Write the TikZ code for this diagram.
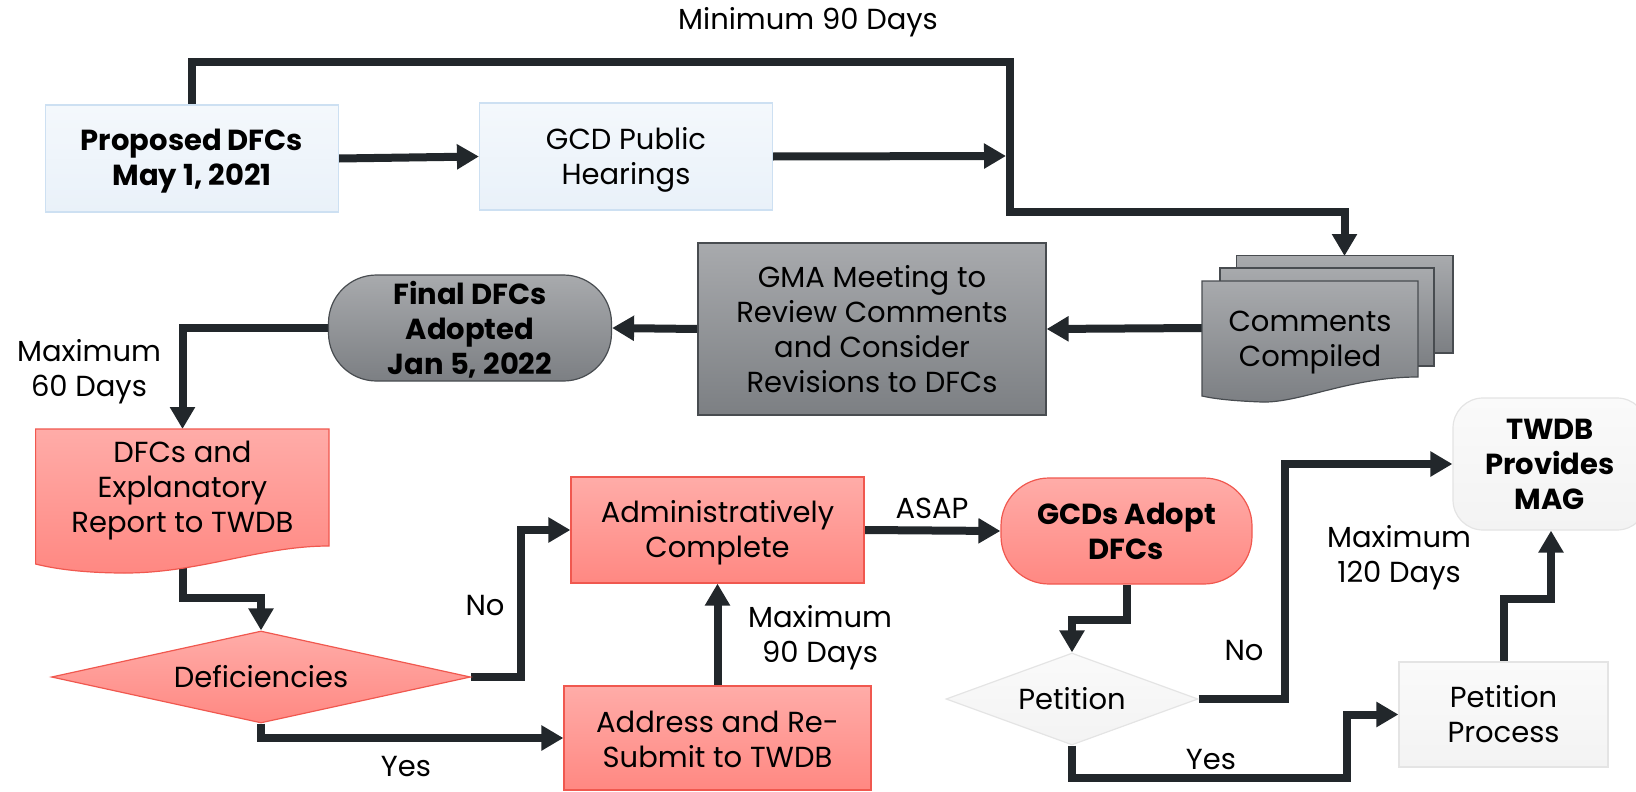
\documentclass[tikz,border=0pt]{standalone}
\usepackage{fontspec}
\setmainfont{Poppins}
\usetikzlibrary{arrows.meta,shapes.geometric}
\pgfdeclarelayer{bg}
\pgfsetlayers{bg,main}
\definecolor{ln}{RGB}{34,39,43}
\definecolor{blueT}{RGB}{244,248,252}
\definecolor{blueBot}{RGB}{233,241,249}
\definecolor{blueD}{RGB}{205,224,242}
\definecolor{grayT}{RGB}{168,170,173}
\definecolor{grayBot}{RGB}{124,127,131}
\definecolor{grayD}{RGB}{72,76,80}
\definecolor{redT}{RGB}{255,172,168}
\definecolor{redBot}{RGB}{255,136,130}
\definecolor{redD}{RGB}{240,88,79}
\definecolor{wT}{RGB}{250,250,250}
\definecolor{wBot}{RGB}{243,243,243}
\definecolor{wD}{RGB}{228,228,228}
\begin{document}
\begin{tikzpicture}[x=1pt,y=-1pt,
  conn/.style={draw=ln, line width=8pt, line join=miter, -{Triangle[length=22pt,width=24pt]}},
  txt/.style={font=\fontsize{29}{35}\selectfont, align=center, text=black, inner sep=0pt},
  btxt/.style={txt, font=\fontsize{29}{35}\selectfont\bfseries},
  dn/.style={yshift=-3pt},
  bluebox/.style={rectangle, draw=blueD, line width=1.2pt, top color=blueT, bottom color=blueBot, inner sep=0pt},
  graybox/.style={rectangle, draw=grayD, line width=1.2pt, top color=grayT, bottom color=grayBot, inner sep=0pt},
  redbox/.style={rectangle, draw=redD, line width=1.2pt, top color=redT, bottom color=redBot, inner sep=0pt},
  whitebox/.style={rectangle, draw=wD, line width=1.2pt, top color=wT, bottom color=wBot, inner sep=0pt},
  sheet/.style={draw=grayD, line width=1.2pt, top color=grayT, bottom color=grayBot},
]
\useasboundingbox (0,0) rectangle (1636,792);

% top row
\node[bluebox, minimum width=293pt, minimum height=107pt] (prop) at (192,158.5) {};
\node[btxt, dn] at (prop) {Proposed DFCs\\May 1, 2021};
\node[bluebox, minimum width=293pt, minimum height=107pt] (gcd) at (626,156.5) {};
\node[txt, dn] at (gcd) {GCD Public\\Hearings};

% comments compiled (stacked documents)
\path[sheet] (1236.7,255.7) rectangle (1453,353);
\path[sheet] (1220,268) rectangle (1434,366);
\path[sheet] (1202,281) -- (1418,281) -- (1418,377)
  .. controls (1350,377) and (1300,403) .. (1262,402)
  .. controls (1235,401) and (1215,399) .. (1202,396) -- cycle;
\node[txt, dn] (comm) at (1310,340) {Comments\\Compiled};
\coordinate (commW) at (1202,328);
\coordinate (commN) at (1344.5,256);

% second row
\node[graybox, minimum width=348pt, minimum height=172pt] (gma) at (872,329) {};
\node[txt] at (gma) {GMA Meeting to\\Review Comments\\and Consider\\Revisions to DFCs};
\node[rectangle, rounded corners=48pt, draw=grayD, line width=1.2pt, top color=grayT, bottom color=grayBot,
  minimum width=283pt, minimum height=106pt, inner sep=0pt] (final) at (470,328) {};
\node[btxt, yshift=-1.5pt] at (final) {Final DFCs\\Adopted\\Jan 5, 2022};

% report document
\path[draw=redD, line width=1.2pt, top color=redT, bottom color=redBot]
  (35.6,429) -- (329,429) -- (329,546)
  .. controls (260,546) and (200,573) .. (125,573)
  .. controls (85,573) and (55,569) .. (35.6,564) -- cycle;
\node[txt, dn] (report) at (182.5,488) {DFCs and\\Explanatory\\Report to TWDB};
\coordinate (reportN) at (182.5,429);
\coordinate (reportS) at (182.5,560);

% deficiencies diamond
\node[diamond, draw=redD, line width=1.2pt, top color=redT, bottom color=redBot,
  minimum width=419pt, minimum height=92pt, inner sep=0pt] (def) at (261,677) {};
\node[txt] at (def) {Deficiencies};

\node[redbox, minimum width=293pt, minimum height=106pt] (admin) at (717.5,530) {};
\node[txt, dn] at (admin) {Administratively\\Complete};
\node[redbox, minimum width=307pt, minimum height=104pt] (addr) at (717.5,738) {};
\node[txt, yshift=-1.5pt] at (addr) {Address and Re-\\Submit to TWDB};

\node[rectangle, rounded corners=48pt, draw=redD, line width=1.2pt, top color=redT, bottom color=redBot,
  minimum width=251pt, minimum height=106pt, inner sep=0pt] (gcds) at (1126.5,531) {};
\node[btxt] at (gcds) {GCDs Adopt\\DFCs};

\node[diamond, draw=wD, line width=1.2pt, top color=wT, bottom color=wBot,
  minimum width=252pt, minimum height=92pt, inner sep=0pt] (pet) at (1072,699) {};
\node[txt] at (pet) {Petition};

\node[whitebox, minimum width=209pt, minimum height=105pt] (petp) at (1503.5,714.5) {};
\node[txt] at (petp) {Petition\\Process};

\node[rectangle, rounded corners=30pt, draw=wD, line width=1.2pt, top color=wT, bottom color=wBot,
  minimum width=194pt, minimum height=132pt, inner sep=0pt] (twdb) at (1550,464) {};
\node[btxt] at (twdb) {TWDB\\Provides\\MAG};

% labels
\node[txt] (lmin90) at (808,22) {Minimum 90 Days};
\node[txt] (lmax60) at (89,372) {Maximum\\60 Days};
\node[txt] (lno1) at (485,606) {No};
\node[txt] (lyes1) at (406,767) {Yes};
\node[txt] (lmax90) at (820,638) {Maximum\\90 Days};
\node[txt] (lasap) at (932,508) {ASAP};
\node[txt] (lno2) at (1244,651) {No};
\node[txt] (lyes2) at (1211,760) {Yes};
\node[txt] (lmax120) at (1399,558) {Maximum\\120 Days};

% connectors
\coordinate (j1) at (1006,156);
\begin{pgfonlayer}{bg}
\draw[conn] (prop.north) -- (192,62) -- (1010,62) -- (1010,212) -- (1344.5,212) -- (commN);
\draw[conn] (prop.east) -- (gcd.west);
\draw[conn] (gcd.east) -- (j1);
\draw[conn] (commW) -- (gma.east);
\draw[conn] (gma.west) -- (final.east);
\draw[conn] (final.west) -| (reportN);
\draw[conn] (reportS) -- (182.5,598) -| (def.north);
\draw[conn] (def.east) -- (520.7,677) |- (admin.west);
\draw[conn] (def.south) |- (addr.west);
\draw[conn] (addr.north) -- (admin.south);
\draw[conn] (admin.east) -- (gcds.west);
\draw[conn] (gcds.south) -- (1126.5,620) -| (pet.north);
\draw[conn] (pet.east) -- (1285,699) |- (twdb.west);
\draw[conn] (pet.south) -- (1072,778) -- (1347,778) |- (petp.west);
\draw[conn] (petp.north) -- (1503.5,599) -- (1551,599) -- (twdb.south -| 1551,0);
\end{pgfonlayer}
\end{tikzpicture}
\end{document}
